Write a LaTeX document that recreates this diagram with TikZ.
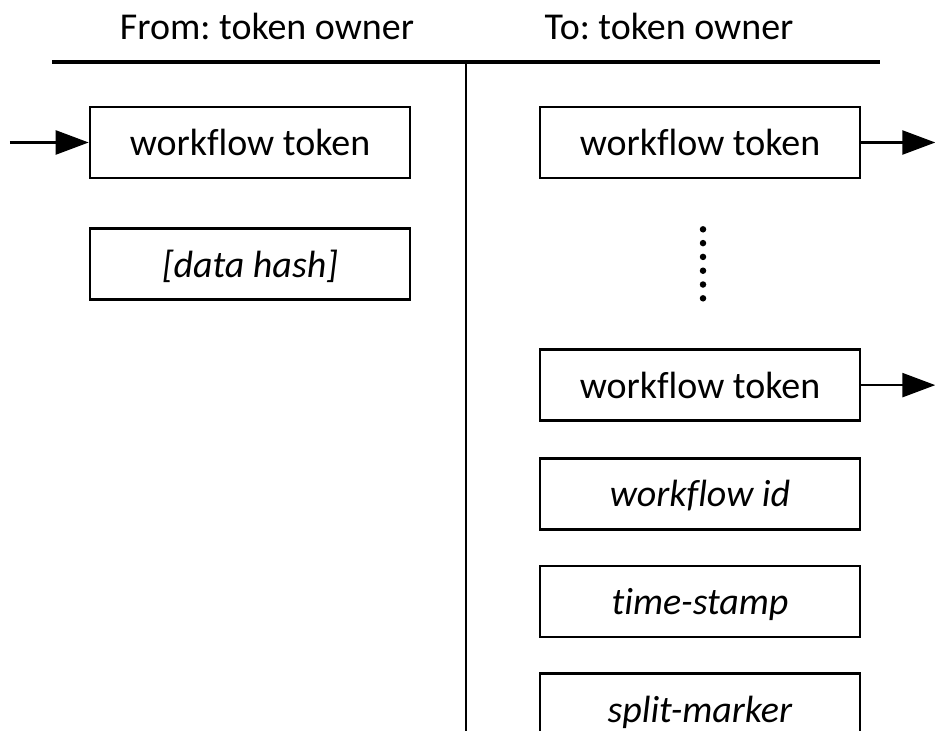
\documentclass[tikz,border=0pt]{standalone}
\usepackage{fontspec}
\setmainfont{Carlito}[Ligatures=NoCommon]
\frenchspacing
\usetikzlibrary{positioning,calc,arrows.meta}
\tikzset{
	label text/.style={font=\fontsize{21.6}{26}\selectfont},
	field/.style={draw, line width=1.5pt, minimum width=6.4cm, minimum height=1.42cm, inner sep=0pt, text depth=0pt, label text},
	flow/.style={-{Triangle[length=0.66cm,width=0.48cm]}, line width=1.4pt},
}
\begin{document}
\begin{tikzpicture}
	\clip (0,0) rectangle (18.7,-14.62);
	\coordinate (hl) at (1.04,-1.24);
	\coordinate (hr) at (17.6,-1.24);
	\coordinate (hm) at (9.32,-1.24);
	\coordinate (vb) at (9.32,-14.62);
	\draw[line width=1.9pt] (hl) -- (hr);
	\draw[line width=1.4pt] (hm) -- (vb);
	\node[label text, anchor=base] (from) at (5.34,-0.8) {From: token owner};
	\node[label text, anchor=base] (to) at (13.38,-0.8) {To: token owner};

	\node[field] (ltok) at (5.0,-2.85) {workflow token};
	\node[field, below=0.96cm of ltok] (lhash) {\textit{[data hash]}};

	\node[field] (rtok) at (14.0,-2.85) {workflow token};
	\node[field, below=3.38cm of rtok] (rtokn) {workflow token};
	\node[field, below=0.7cm of rtokn] (rid) {\textit{workflow id}};
	\node[field, below=0.68cm of rid] (rstamp) {\textit{time-stamp}};
	\node[field, below=0.68cm of rstamp] (rsplit) {\textit{split-marker}};

	\coordinate (dots) at ($(rtok.south)!0.5!(rtokn.north)$);
	\foreach \i in {-2.5,-1.5,...,2.5}
		\fill ($(dots)+(0.06,0.276*\i)$) circle (0.065);

	\coordinate (in) at (0.2,-2.85);
	\coordinate (out) at ($(rtok.east)+(1.48,0)$);
	\coordinate (outn) at ($(rtokn.east)+(1.48,0)$);
	\draw[flow] (in) -- (ltok);
	\draw[flow] (rtok) -- (out);
	\draw[flow] (rtokn) -- (outn);
\end{tikzpicture}
\end{document}
